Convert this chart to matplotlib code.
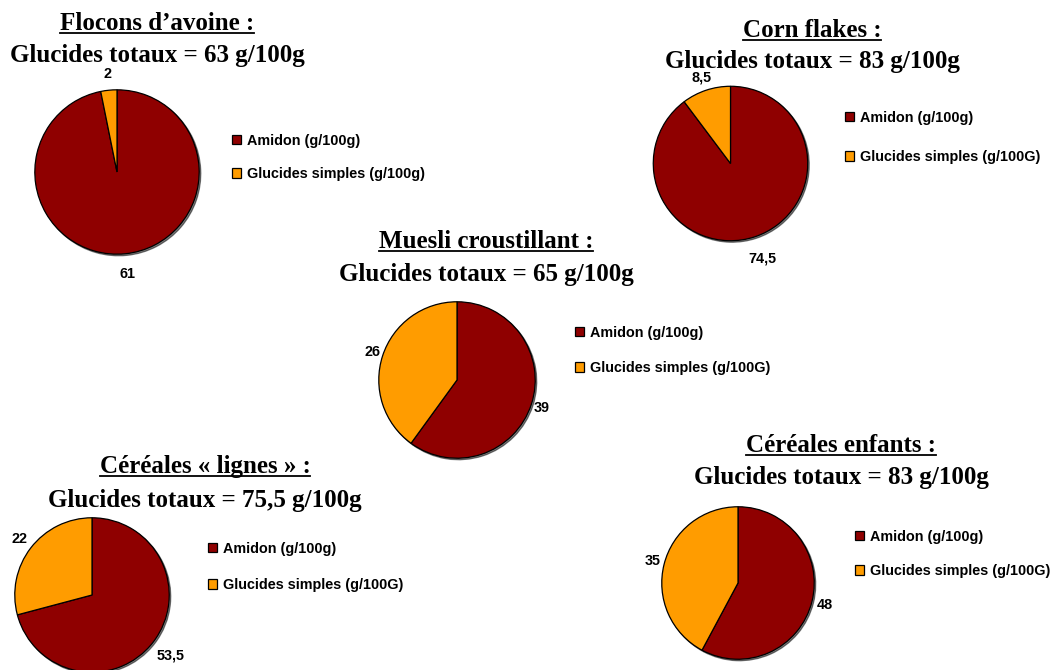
import matplotlib.pyplot as plt
from matplotlib.lines import Line2D
import numpy as np

W, H = 1050, 670

# Teneur en glucides (g/100g) par type de céréales
titres = ["Flocons d’avoine :", "Corn flakes :", "Muesli croustillant :",
          "Céréales « lignes » :", "Céréales enfants :"]
totaux = ["63", "83", "65", "75,5", "83"]
amidon = [61, 74.5, 39, 53.5, 48]
simples = [2, 8.5, 26, 22, 35]
leg_amidon = "Amidon (g/100g)"
leg_simples = ["Glucides simples (g/100g)", "Glucides simples (g/100G)",
               "Glucides simples (g/100G)", "Glucides simples (g/100G)",
               "Glucides simples (g/100G)"]

COUL = ["#8f0000", "#ff9c00"]

# placement en pixels : centre et rayon du camembert
centres = [(117, 172), (730.5, 163.5), (457, 380), (92, 595), (738, 583)]
rayons = [83, 78, 79, 78, 77]
# titres : centre x, ligne de base du titre et du sous-titre
titre_x = [157, 812, 486, 205, 841]
titre_base = [30, 37, 248, 473, 452]
sous_base = [62, 68, 281, 507, 484]
# légendes : bord gauche, milieu vertical, écart entre lignes
leg_pos = [(232, 157.5, 33), (845, 137.5, 39), (575, 350.5, 35),
           (208, 567, 36), (855, 554, 34)]
# distance des étiquettes (amidon, simples) en rayons
dist_lab = [(1.25, 1.2), (1.3, 1.17), (1.14, 1.14), (1.29, 1.19), (1.18, 1.16)]


def px(x, y):
    return x / W, 1 - y / H


def fmt(v):
    return f"{v:g}".replace(".", ",")


plt.rcParams['font.family'] = ['Liberation Sans', 'DejaVu Sans']
fig = plt.figure(figsize=(W / 100, H / 100), dpi=100)

FS_LEG = 10.4
FS_TIT = 18
fs_px = FS_LEG * 100 / 72

titre_objs = []
for i in range(5):
    cx, cy = centres[i]
    r = rayons[i]
    ax = fig.add_axes([(cx - r) / W, 1 - (cy + r) / H, 2 * r / W, 2 * r / H])
    vals = [amidon[i], simples[i]]
    wedges, _ = ax.pie(vals, colors=COUL, startangle=90, counterclock=False,
                       radius=1, wedgeprops=dict(edgecolor='black', linewidth=0.9),
                       shadow={'ox': 0.014, 'oy': -0.014, 'shade': 1.0})
    ax.set_xlim(-1.01, 1.01)
    ax.set_ylim(-1.01, 1.01)
    ax.set_aspect('equal')
    ax.axis('off')
    for w, v, d in zip(wedges, vals, dist_lab[i]):
        ang = np.deg2rad((w.theta1 + w.theta2) / 2)
        ax.text(d * np.cos(ang), d * np.sin(ang), fmt(v), ha='center', va='center',
                fontsize=FS_LEG, fontweight='bold', clip_on=False)

    lx, ly, sp = leg_pos[i]
    ax.legend(wedges, [leg_amidon, leg_simples[i]], loc='center left',
              bbox_to_anchor=px(lx, ly), bbox_transform=fig.transFigure,
              frameon=False, prop=dict(size=FS_LEG, weight='bold'),
              handlelength=0.65, handleheight=0.65, handletextpad=0.4,
              labelspacing=(sp - fs_px * 0.92) / fs_px, borderpad=0, borderaxespad=0)

    t = fig.text(*px(titre_x[i], titre_base[i]), titres[i], ha='center', va='baseline',
                 fontsize=FS_TIT, fontweight='bold', family='Liberation Serif')
    titre_objs.append((t, titre_base[i]))
    fig.text(*px(titre_x[i], sous_base[i]), f"Glucides totaux = {totaux[i]} g/100g",
             ha='center', va='baseline', fontsize=FS_TIT, fontweight='bold',
             family='Liberation Serif')

# soulignement des titres
fig.canvas.draw()
rend = fig.canvas.get_renderer()
for t, base in titre_objs:
    bb = t.get_window_extent(rend)
    y = base + 3
    fig.add_artist(Line2D([bb.x0 / W, bb.x1 / W], [1 - y / H, 1 - y / H],
                          transform=fig.transFigure, color='black', linewidth=1.3))

fig.savefig("out.png", dpi=100, facecolor='white')
